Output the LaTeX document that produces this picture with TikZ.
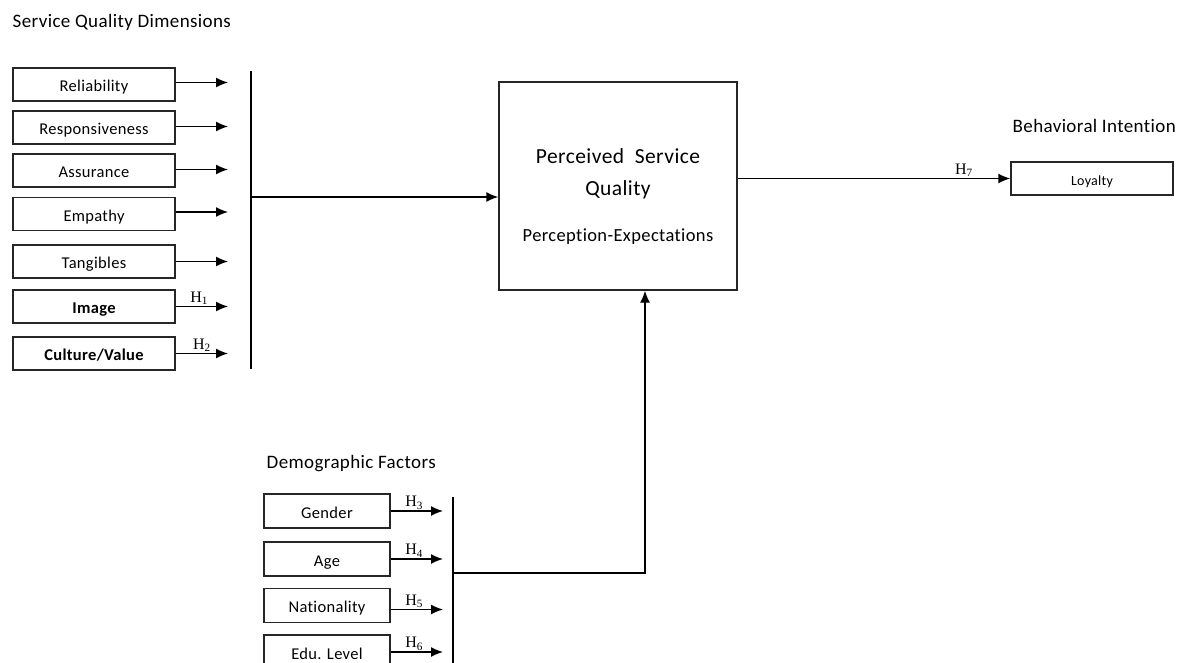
\documentclass[tikz,border=0pt]{standalone}
\usepackage{fontspec}
\setmainfont[LetterSpace=2,Ligatures=NoCommon]{Carlito}
\newfontfamily\hfont{Liberation Serif}
\usetikzlibrary{arrows,arrows.meta,positioning}
\newcommand{\hyp}[1]{{\hfont H\textsubscript{#1}}}

\begin{document}
\begin{tikzpicture}[
    x=1pt, y=-1pt,
    line width=1.4pt,
    factor/.style={draw=black!85, rectangle, inner sep=0, minimum width=162pt, minimum height=33pt, text height=14pt, text depth=0pt, font=\fontsize{16.5}{18}\selectfont},
    demo/.style={factor, minimum width=126pt, minimum height=34pt},
    heading/.style={anchor=base west, inner sep=0, font=\fontsize{19}{22}\selectfont},
    hlab/.style={above, inner sep=1pt, font=\fontsize{16}{18}\selectfont},
    arr/.style={-{Latex[length=12pt,width=10pt]}, line width=1.4pt}]
\useasboundingbox (0,0) rectangle (1185,663);

\node[heading] (sqdtitle) at (12,28) {Service Quality Dimensions};
\node[heading] (bititle) at (1012,133) {Behavioral Intention};
\node[heading] (dftitle) at (266,468) {Demographic Factors};

\node[factor] (rel) at (94,84.5)  {Reliability};
\node[factor] (res) at (94,127.5) {Responsiveness};
\node[factor] (ass) at (94,170.5) {Assurance};
\node[factor] (emp) at (94,214)   {Empathy};
\node[factor] (tan) at (94,261.5) {Tangibles};
\node[factor] (img) at (94,306.5) {\bfseries Image};
\node[factor] (cul) at (94,353.5) {\bfseries Culture/Value};

\node[demo] (gen) at (327,511)   {Gender};
\node[demo] (age) at (327,559)   {Age};
\node[demo] (nat) at (327,605.5) {Nationality};
\node[demo] (edu) at (327,652)   {Edu. Level};

\node[draw=black!85, rectangle, minimum width=238pt, minimum height=208pt] (psq) at (618,186) {};
\node[align=center, inner sep=0, font=\fontsize{21.5}{32}\selectfont] (psqtext) at ([yshift=-11pt]psq.center)
    {Perceived\ \ Service\\ Quality\\[14pt] {\fontsize{18.5}{20}\selectfont Perception-Expectations}};

\node[factor] (loy) at (1092,178.5) {\fontsize{14}{15}\selectfont Loyalty};

\coordinate (sqtop) at (251,71);
\coordinate (sqbot) at (251,369);
\coordinate (sqmid) at (251,197);
\coordinate (dftop) at (453,497);
\coordinate (dfbot) at (453,670);
\coordinate (dfmid) at (453,573);

\path[draw] (sqtop) -- (sqbot);
\path[draw] (dftop) -- (dfbot);

\draw[arr] ([yshift=2pt]rel.east) -- ([yshift=2pt,xshift=-23pt]rel.east -| sqtop);
\draw[arr] ([yshift=1pt]res.east) -- ([yshift=1pt,xshift=-23pt]res.east -| sqtop);
\draw[arr] ([yshift=1pt]ass.east) -- ([yshift=1pt,xshift=-23pt]ass.east -| sqtop);
\draw[arr] ([yshift=2pt]emp.east) -- ([yshift=2pt,xshift=-23pt]emp.east -| sqtop);
\draw[arr] (tan.east) -- ([xshift=-23pt]tan.east -| sqtop);
\draw[arr] (img.east) -- node[hlab, pos=0.45] {\hyp{1}} ([xshift=-23pt]img.east -| sqtop);
\draw[arr] (cul.east) -- node[hlab, pos=0.5] {\hyp{2}} ([xshift=-23pt]cul.east -| sqtop);

\draw[arr] (gen.east) -- node[hlab, pos=0.45] {\hyp{3}} ([xshift=-10pt]gen.east -| dftop);
\draw[arr] (age.east) -- node[hlab, pos=0.45] {\hyp{4}} ([xshift=-10pt]age.east -| dftop);
\draw[arr] ([yshift=-4pt]nat.east) -- node[hlab, pos=0.45] {\hyp{5}} ([yshift=-4pt,xshift=-10pt]nat.east -| dftop);
\draw[arr] (edu.east) -- node[hlab, pos=0.45] {\hyp{6}} ([xshift=-10pt]edu.east -| dftop);

\draw[arr] (sqmid) -- (sqmid -| psq.west);
\draw[arr] (dfmid) -| ([xshift=27pt]psq.south);
\draw[arr] (psq.east |- loy.west) -- node[hlab, pos=0.83] {\hyp{7}} (loy.west);

\end{tikzpicture}
\end{document}
